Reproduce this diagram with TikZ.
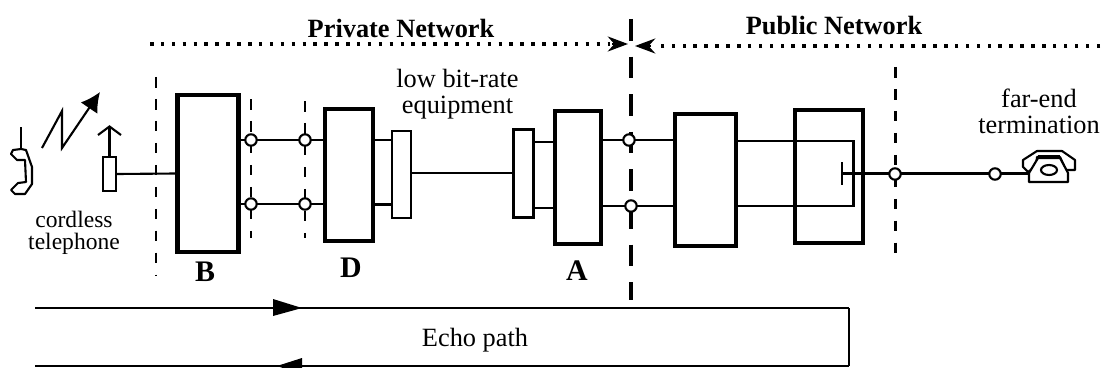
\documentclass[tikz,border=0pt]{standalone}
\usepackage{fontspec}
\setmainfont{Liberation Serif}
\usetikzlibrary{arrows.meta}
\tikzset{
  unit/.style={draw,line width=2.4pt,fill=white,inner sep=0pt},
  thinbox/.style={draw,line width=1.2pt,fill=white,inner sep=0pt},
  wire/.style={line width=1.2pt},
  junc/.style={circle,draw,line width=1.2pt,fill=white,minimum size=6.5pt,inner sep=0pt},
  cut/.style={line width=1.7pt,dash pattern=on 6pt off 6.5pt},
  bigcut/.style={line width=2pt,dash pattern=on 12.3pt off 9.1pt},
  dots/.style={line width=2pt,dash pattern=on 2pt off 4.2pt},
  lab/.style={font=\fontsize{15pt}{14.7pt}\selectfont,align=center,inner sep=0pt},
  smalllab/.style={font=\fontsize{13.4pt}{12.8pt}\selectfont,align=center,inner sep=0pt},
  head/.style={font=\fontsize{15pt}{17pt}\selectfont\bfseries,inner sep=0pt},
  letter/.style={font=\fontsize{17pt}{19pt}\selectfont\bfseries,inner sep=0pt}
}
\begin{document}
\begin{tikzpicture}[x=0.02cm,y=-0.02cm,>={Latex[length=11pt,width=11.5pt]}]
  \useasboundingbox (0,0) rectangle (1104,368);

  % boundaries
  \draw[cut] (156,77)--(156,275);
  \draw[cut] (251,99)--(251,238);
  \draw[cut] (305,101)--(305,238);
  \draw[cut] (895,67)--(895,264);
  \draw[bigcut] (631,19)--(631,300);

  % network headings
  \coordinate (privstart) at (150,44);
  \coordinate (privend) at (628,44);
  \coordinate (pubstart) at (1100,46);
  \coordinate (pubend) at (635,46);
  \draw[dots] (privstart)--(610,44);
  \draw[dots] (pubstart)--(655,46);
  \draw[line width=1.7pt,-{Stealth[length=11.5pt,width=8.5pt]}] (612,44)--(privend);
  \draw[line width=1.7pt,-{Stealth[length=11.5pt,width=8.5pt]}] (651,46)--(pubend);
  \node[head] (privlab) at (401,28) {Private Network};
  \node[head] (publab) at (834,26) {Public Network};

  % boxes
  \node[unit,minimum width=1.22cm,minimum height=3.14cm] (boxB) at (208,173.5) {};
  \node[unit,minimum width=0.96cm,minimum height=2.64cm] (boxD) at (349,175) {};
  \node[thinbox,minimum width=0.38cm,minimum height=1.74cm] (lowL) at (401.5,174.5) {};
  \node[thinbox,minimum width=0.4cm,minimum height=1.76cm] (lowR) at (523.5,173.5) {};
  \node[unit,minimum width=0.93cm,minimum height=2.66cm] (boxA) at (578,177.5) {};
  \node[unit,minimum width=1.22cm,minimum height=2.64cm] (boxP) at (705.5,180) {};
  \node[unit,minimum width=1.36cm,minimum height=2.66cm] (boxE) at (829,176.5) {};
  \node[thinbox,minimum width=0.26cm,minimum height=0.68cm] (ant) at (109.5,174) {};

  % wires
  \draw[wire] (ant.east)--(boxB.west);
  \draw[wire] (boxB.east |- 0,140)--(boxD.west |- 0,140);
  \draw[wire] (boxB.east |- 0,204)--(boxD.west |- 0,204);
  \draw[wire] (boxD.east |- 0,140)--(lowL.west |- 0,140);
  \draw[wire] (boxD.east |- 0,204.5)--(lowL.west |- 0,204.5);
  \draw[wire] (lowL.east |- 0,173)--(lowR.west |- 0,173);
  \draw[wire] (lowR.east |- 0,142)--(boxA.west |- 0,142);
  \draw[wire] (lowR.east |- 0,208)--(boxA.west |- 0,208);
  \draw[wire] (boxA.east |- 0,140)--(boxP.west |- 0,140);
  \draw[wire] (boxA.east |- 0,206)--(boxP.west |- 0,206);
  \draw[wire] (boxP.east |- 0,141)--(boxE.west |- 0,141);
  \draw[wire] (boxP.east |- 0,206)--(boxE.west |- 0,206);
  \draw[wire] (boxE.west |- 0,141)--(853.5,141)--(853.5,206)--(boxE.west |- 0,206);
  \draw[wire,line width=1.6pt] (842,162)--(842,185);
  \coordinate (hybrid) at (842,173.5);
  \coordinate (phone) at (1030,173.5);
  \draw[wire] (hybrid)--(phone);

  % junctions
  \foreach \x/\y/\name in {251/140/ja,305/140/jb,251/204/jc,305/204/jd,629/140/je,631/206/jf,895/174/jg,995/174/jh}{
    \node[junc] (\name) at (\x,\y) {};
  }

  % handset and radio link
  \draw[line width=1.2pt] (21,127)--(21,149);
  \draw[line width=1.2pt,fill=white,line join=round] (21,149)--(13,150)--(11,154)--(17,160)--(25,160)--(26,182)--(18,183)--(11,190)--(15,194)--(25,194)--(32,184)--(32,167)--(26,150)--cycle;
  \draw[line width=1.2pt,->] (42,148)--(62,111)--(62,148)--(100,92);
  \draw[line width=1.2pt] (109.5,157)--(109.5,127);
  \draw[line width=1.2pt] (98,135)--(109.5,126.5)--(121,135);

  % far-end phone
  \draw[line width=1.2pt,fill=white,line join=round] (1023,160)--(1037,151)--(1062,151)--(1075,160)--(1075,170)--(1066,170)--(1060,157)--(1037,157)--(1036,166)--(1028,172)--(1023,167)--cycle;
  \draw[line width=1.2pt,fill=white,line join=round] (1029,182)--(1029,173)--(1038,158)--(1060,158)--(1068,173)--(1068,182)--cycle;
  \draw[line width=2.2pt] (1038,157)--(1060,157);
  \draw[line width=1.2pt] (1049,170) ellipse (8 and 5);

  % echo path
  \coordinate (echoa) at (35,308);
  \coordinate (echob) at (849,308);
  \coordinate (echoc) at (849,366);
  \coordinate (echod) at (35,366);
  \draw[wire] (echoa)--(echob);
  \draw[line width=0.8pt] (echob)--(echoc);
  \draw[wire] (echoc)--(echod);
  \fill (273,299) -- (302,308) -- (273,316) -- cycle;
  \fill (302,358) -- (277,366) -- (283,368) -- (302,368) -- cycle;

  % labels
  \node[smalllab] (cordless) at (74,233) {cordless\\telephone};
  \node[lab] (lowbit) at (457.5,94) {low bit-rate\\equipment};
  \node[lab] (farend) at (1039,111) {far-end\\termination};
  \node[lab] (echolab) at (475,340) {Echo path};
  \node[letter] (labB) at (205,272) {B};
  \node[letter] (labD) at (351,268) {D};
  \node[letter] (labA) at (577,271) {A};
\end{tikzpicture}
\end{document}
